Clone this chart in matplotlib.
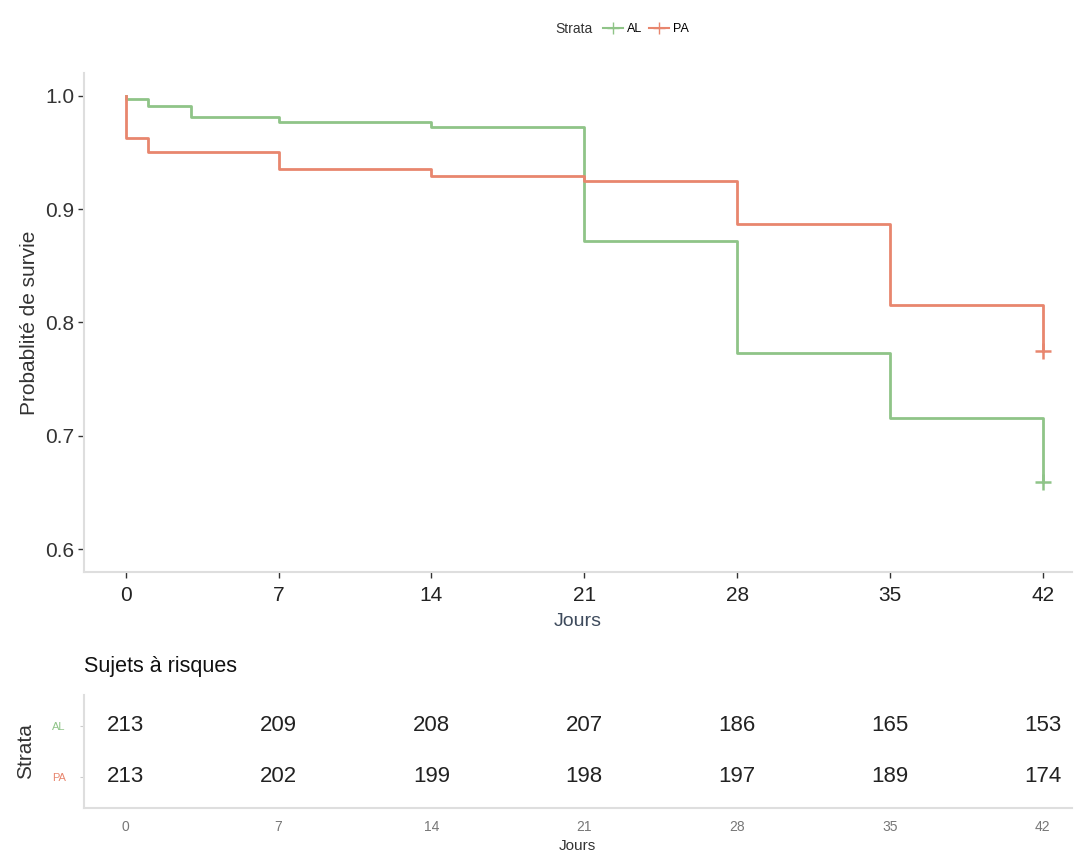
import matplotlib
matplotlib.use("Agg")
import matplotlib.pyplot as plt
from matplotlib.lines import Line2D

plt.rcParams['font.family'] = ['Liberation Sans', 'DejaVu Sans']

# Kaplan-Meier steps per stratum (event times in days, survival after each step)
al_times = [0, 0, 1, 3, 7, 14, 21, 28, 35, 42]
al_surv = [1.0, 0.997, 0.991, 0.981, 0.977, 0.972, 0.872, 0.773, 0.716, 0.659]
pa_times = [0, 0, 1, 7, 14, 21, 28, 35, 42]
pa_surv = [1.0, 0.963, 0.950, 0.935, 0.929, 0.925, 0.887, 0.815, 0.775]

# number at risk table
risk_days = [0, 7, 14, 21, 28, 35, 42]
al_risk = [213, 209, 208, 207, 186, 165, 153]
pa_risk = [213, 202, 199, 198, 197, 189, 174]

strata = ['AL', 'PA']
green = '#8fc488'
red = '#e8866e'
axis_grey = '#dedede'
xlim = (-1.92, 43.33)

fig = plt.figure(figsize=(10.75, 8.64), dpi=100)

# --- survival curves ---
ax = fig.add_axes([0.078, 0.338, 0.919, 0.5775])
ax.plot(al_times, al_surv, drawstyle='steps-post', color=green, lw=2)
ax.plot(pa_times, pa_surv, drawstyle='steps-post', color=red, lw=2)
ax.plot(al_times[-1], al_surv[-1], marker='+', color=green, ms=11, mew=1.8)
ax.plot(pa_times[-1], pa_surv[-1], marker='+', color=red, ms=11, mew=1.8)

ax.set_xlim(*xlim)
ax.set_ylim(0.58, 1.02)
ax.set_xticks(risk_days)
ax.set_yticks([0.6, 0.7, 0.8, 0.9, 1.0])
ax.set_yticklabels(['0.6', '0.7', '0.8', '0.9', '1.0'])
ax.tick_params(labelsize=15, colors='#333333', length=4, width=1, pad=3)
ax.tick_params(axis='x', labelcolor='#222222', pad=6)
for side in ['top', 'right']:
    ax.spines[side].set_visible(False)
for side in ['left', 'bottom']:
    ax.spines[side].set_color(axis_grey)
    ax.spines[side].set_linewidth(1.5)
ax.set_xlabel('Jours', fontsize=14, color='#3d4a5c', labelpad=6)
ax.set_ylabel('Probablité de survie', fontsize=15, color='#333333', labelpad=4)

# legend on top
fig.text(0.551, 0.966, 'Strata', fontsize=10, color='#333333', ha='right', va='center')
handles = [Line2D([0], [0], color=green, marker='+', lw=1.5, ms=8),
           Line2D([0], [0], color=red, marker='+', lw=1.5, ms=8)]
fig.legend(handles, strata, ncol=2, loc='center left', bbox_to_anchor=(0.555, 0.966),
           frameon=False, fontsize=9, handlelength=1.6, handletextpad=0.3,
           columnspacing=0.6, borderpad=0)

# --- risk table ---
tb = fig.add_axes([0.078, 0.065, 0.919, 0.131])
for days, al, pa in zip(risk_days, al_risk, pa_risk):
    tb.text(days, 2, str(al), ha='center', va='center', fontsize=16, color='#222222')
    tb.text(days, 1, str(pa), ha='center', va='center', fontsize=16, color='#222222')
tb.set_xlim(*xlim)
tb.set_ylim(0.4, 2.6)
tb.set_xticks(risk_days)
tb.set_yticks([2, 1])
tb.set_yticklabels(strata)
tb.tick_params(axis='y', labelsize=8, length=3, colors='#cccccc', pad=10)
for lab, col in zip(tb.get_yticklabels(), [green, red]):
    lab.set_color(col)
tb.tick_params(axis='x', labelsize=10, length=0, labelcolor='#777777', pad=9)
for side in ['top', 'right']:
    tb.spines[side].set_visible(False)
for side in ['left', 'bottom']:
    tb.spines[side].set_color(axis_grey)
    tb.spines[side].set_linewidth(1.5)
tb.set_xlabel('Jours', fontsize=11, color='#333333', labelpad=3)
tb.set_ylabel('Strata', fontsize=15, color='#333333', labelpad=12)
tb.set_title('Sujets à risques', loc='left', fontsize=15.5, color='#111111', pad=16, x=0.0)

fig.savefig('out.png', dpi=100, facecolor='white')
